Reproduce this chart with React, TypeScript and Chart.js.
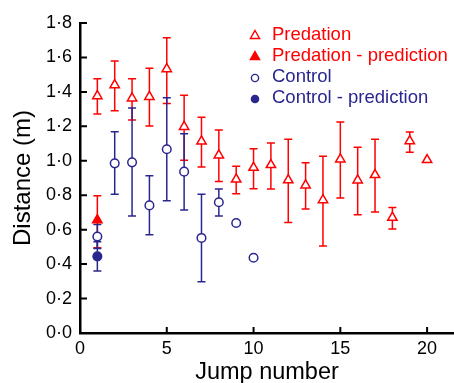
import React, { useEffect, useRef } from "react";
import { Chart, registerables } from "chart.js";

Chart.register(...registerables);

// ---- data ----
const xTicks = [0, 5, 10, 15, 20];
const yTicks = [0, 0.2, 0.4, 0.6, 0.8, 1.0, 1.2, 1.4, 1.6, 1.8];

const predJump = [1, 2, 3, 4, 5, 6, 7, 8, 9, 10, 11, 12, 13, 14, 15, 16, 17, 18, 19, 20];
const predMean = [1.376, 1.44, 1.363, 1.372, 1.533, 1.198, 1.113, 1.032, 0.892, 0.96, 0.976, 0.888, 0.858, 0.772, 1.009, 0.887, 0.918, 0.67, 1.115, 1.005];
const predHigh = [1.477, 1.58, 1.477, 1.537, 1.715, 1.38, 1.253, 1.179, 0.968, 1.07, 1.103, 1.125, 0.989, 1.026, 1.225, 1.078, 1.125, 0.728, 1.167, null];
const predLow = [1.272, 1.29, 1.237, 1.202, 1.332, 1.003, 0.964, 0.879, 0.809, 0.838, 0.836, 0.641, 0.72, 0.505, 0.784, 0.687, 0.703, 0.604, 1.049, null];

const predPredJump = [1];
const predPredMean = [0.656];
const predPredHigh = [0.797];
const predPredLow = [0.495];

const ctrlJump = [1, 2, 3, 4, 5, 6, 7, 8, 9, 10];
const ctrlMean = [0.56, 0.985, 0.991, 0.741, 1.067, 0.937, 0.552, 0.759, 0.639, 0.437];
const ctrlHigh = [0.63, 1.169, 1.307, 0.913, 1.366, 1.157, 0.805, 0.836, null, null];
const ctrlLow = [0.49, 0.805, 0.679, 0.571, 0.768, 0.714, 0.298, 0.679, null, null];

const ctrlPredJump = [1];
const ctrlPredMean = [0.445];
const ctrlPredHigh = [0.53];
const ctrlPredLow = [0.36];

const seriesLabels = ["Predation", "Predation - prediction", "Control", "Control - prediction"];

const RED = "#ff0000";
const BLUE = "#2a268f";
const FONT = "'Liberation Sans', Arial, Helvetica, sans-serif";

const pts = (xs: number[], ys: number[]) => xs.map((x, i) => ({ x, y: ys[i] }));

const errorBarPlugin = {
  id: "errorBars",
  beforeDatasetsDraw(chart: any) {
    const ctx = chart.ctx;
    const ys = chart.scales.y;
    const xs = chart.scales.x;
    chart.data.datasets.forEach((ds: any) => {
      if (!ds.errHigh) return;
      ctx.save();
      ctx.strokeStyle = ds.borderColor;
      ctx.lineWidth = 1.5;
      ds.data.forEach((p: any, i: number) => {
        const hi = ds.errHigh[i];
        const lo = ds.errLow[i];
        if (hi == null || lo == null) return;
        const px = xs.getPixelForValue(p.x);
        const pyH = ys.getPixelForValue(hi);
        const pyL = ys.getPixelForValue(lo);
        ctx.beginPath();
        ctx.moveTo(px, pyH);
        ctx.lineTo(px, pyL);
        ctx.moveTo(px - 4, pyH);
        ctx.lineTo(px + 4, pyH);
        ctx.moveTo(px - 4, pyL);
        ctx.lineTo(px + 4, pyL);
        ctx.stroke();
      });
      ctx.restore();
    });
  },
};

const axisTickPlugin = {
  id: "inwardTicks",
  afterDraw(chart: any) {
    const ctx = chart.ctx;
    const { left, bottom } = chart.chartArea;
    ctx.save();
    ctx.strokeStyle = "#000";
    ctx.lineWidth = 2;
    ctx.beginPath();
    xTicks.forEach((v) => {
      const px = chart.scales.x.getPixelForValue(v);
      ctx.moveTo(px, bottom);
      ctx.lineTo(px, bottom - 6);
    });
    yTicks.forEach((v) => {
      const py = chart.scales.y.getPixelForValue(v);
      ctx.moveTo(left, py);
      ctx.lineTo(left + 7, py);
    });
    ctx.stroke();
    ctx.restore();
  },
};

const legendPlugin = {
  id: "customLegend",
  afterDraw(chart: any) {
    const ctx = chart.ctx;
    const items = [
      { text: seriesLabels[0], color: RED, shape: "triangle", filled: false },
      { text: seriesLabels[1], color: RED, shape: "triangle", filled: true },
      { text: seriesLabels[2], color: BLUE, shape: "circle", filled: false },
      { text: seriesLabels[3], color: BLUE, shape: "circle", filled: true },
    ];
    const rowY = [35, 56, 77, 98];
    const mx = 255;
    const tx = 272;
    ctx.save();
    ctx.font = `18.5px ${FONT}`;
    ctx.textBaseline = "middle";
    ctx.textAlign = "left";
    items.forEach((it, i) => {
      const y = rowY[i];
      ctx.lineWidth = 1.4;
      ctx.strokeStyle = it.color;
      ctx.fillStyle = it.filled ? it.color : "#fff";
      ctx.beginPath();
      if (it.shape === "triangle") {
        ctx.moveTo(mx, y - 4.5);
        ctx.lineTo(mx + 4.6, y + 3.5);
        ctx.lineTo(mx - 4.6, y + 3.5);
        ctx.closePath();
      } else {
        ctx.arc(mx, y + 1, 3.6, 0, Math.PI * 2);
      }
      ctx.fill();
      ctx.stroke();
      ctx.fillStyle = it.color;
      ctx.fillText(it.text, tx, y);
    });
    ctx.restore();
  },
};

export default function App() {
  const ref = useRef<HTMLCanvasElement | null>(null);

  useEffect(() => {
    if (!ref.current) return;
    Chart.defaults.font.family = FONT;
    const chart = new Chart(ref.current, {
      type: "scatter",
      data: {
        datasets: [
          {
            label: seriesLabels[1],
            data: pts(predPredJump, predPredMean),
            errHigh: predPredHigh,
            errLow: predPredLow,
            pointStyle: "triangle",
            pointRadius: 5.4,
            borderColor: RED,
            backgroundColor: RED,
            borderWidth: 1.5,
          } as any,
          {
            label: seriesLabels[0],
            data: pts(predJump, predMean),
            errHigh: predHigh,
            errLow: predLow,
            pointStyle: "triangle",
            pointRadius: 5.4,
            borderColor: RED,
            backgroundColor: "#fff",
            borderWidth: 1.5,
          } as any,
          {
            label: seriesLabels[3],
            data: pts(ctrlPredJump, ctrlPredMean),
            errHigh: ctrlPredHigh,
            errLow: ctrlPredLow,
            pointStyle: "circle",
            pointRadius: 4.3,
            borderColor: BLUE,
            backgroundColor: BLUE,
            borderWidth: 1.5,
          } as any,
          {
            label: seriesLabels[2],
            data: pts(ctrlJump, ctrlMean),
            errHigh: ctrlHigh,
            errLow: ctrlLow,
            pointStyle: "circle",
            pointRadius: 4.3,
            borderColor: BLUE,
            backgroundColor: "#fff",
            borderWidth: 1.5,
          } as any,
        ],
      },
      options: {
        animation: false,
        responsive: false,
        maintainAspectRatio: false,
        clip: false as any,
        layout: { autoPadding: false, padding: { top: 23, right: 0, left: 0, bottom: 0 } },
        plugins: {
          legend: { display: false },
          tooltip: { enabled: false },
        },
        scales: {
          x: {
            type: "linear",
            min: 0,
            max: 21.55,
            afterBuildTicks: (s: any) => {
              s.ticks = xTicks.map((v) => ({ value: v }));
            },
            afterFit: (s: any) => {
              s.height = 50;
              s.paddingLeft = 0;
              s.paddingRight = 0;
            },
            grid: { display: false, drawTicks: false },
            border: { display: true, color: "#000", width: 2.5 },
            ticks: {
              color: "#000",
              font: { size: 18 },
              padding: 5,
              maxRotation: 0,
              callback: (v: any) => String(v),
            },
            title: {
              display: true,
              text: "Jump number",
              color: "#000",
              font: { size: 23.5, lineHeight: 0.85 },
              padding: { top: 0, bottom: 0 },
            },
          },
          y: {
            type: "linear",
            min: 0,
            max: 1.8,
            afterBuildTicks: (s: any) => {
              s.ticks = yTicks.map((v) => ({ value: v }));
            },
            afterFit: (s: any) => {
              s.width = 80;
              s.paddingTop = 0;
              s.paddingBottom = 0;
            },
            grid: { display: false, drawTicks: false },
            border: { display: true, color: "#000", width: 2.5 },
            ticks: {
              color: "#000",
              font: { size: 18 },
              padding: 8,
              callback: (v: any) => Number(v).toFixed(1).replace(".", "\u00B7"),
            },
            title: {
              display: true,
              text: "Distance (m)",
              color: "#000",
              font: { size: 24, lineHeight: 1.2 },
              padding: { top: 9, bottom: 0 },
            },
          },
        },
      } as any,
      plugins: [errorBarPlugin, axisTickPlugin, legendPlugin],
    });
    return () => chart.destroy();
  }, []);

  return (
    <div style={{ position: "fixed", left: 0, top: 0, width: 454, height: 383, background: "#fff" }}>
      <canvas ref={ref} width={454} height={383} style={{ display: "block" }} />
    </div>
  );
}
